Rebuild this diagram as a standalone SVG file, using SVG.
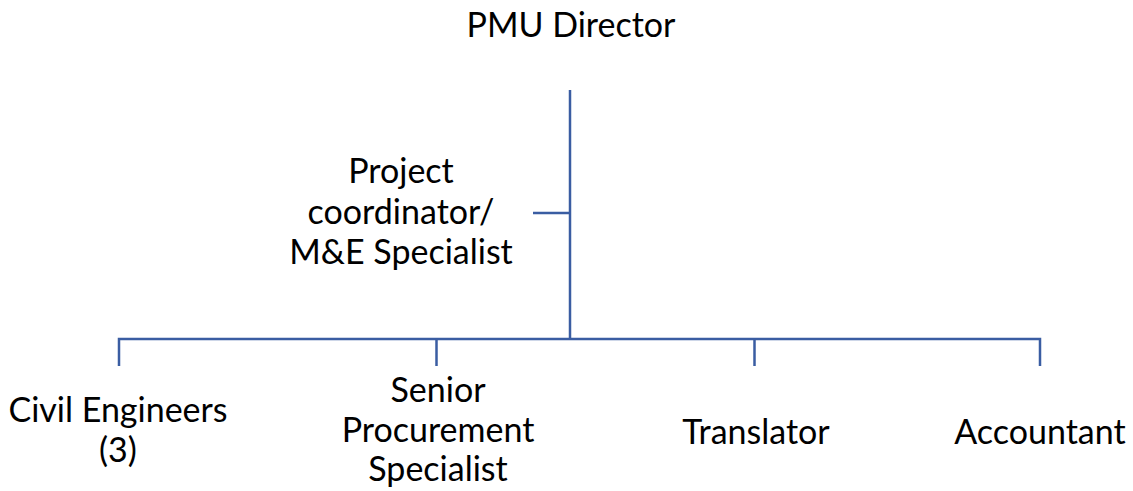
<svg xmlns="http://www.w3.org/2000/svg" width="1133" height="491" viewBox="0 0 1133 491">
<style>
.t{font-family:Lato,"Liberation Sans",sans-serif;font-size:34px;fill:#000;text-anchor:middle}
.c{stroke:#3A5DA2;stroke-width:2.5;fill:none;stroke-linecap:butt}
</style>
<rect width="1133" height="491" fill="#fff"/>
<g id="connectors">
<line class="c" x1="570" y1="90" x2="570" y2="340"/>
<line class="c" x1="533" y1="213" x2="570" y2="213"/>
<polyline class="c" points="119,366 119,339 1040,339 1040,366"/>
<line class="c" x1="436.5" y1="339" x2="436.5" y2="366"/>
<line class="c" x1="754.5" y1="339" x2="754.5" y2="366"/>
</g>
<g id="pmu-director"><text class="t" x="571" y="37">PMU Director</text></g>
<g id="project-coordinator"><text class="t" x="401" y="183">Project</text><text class="t" x="401" y="224">coordinator/</text><text class="t" x="401" y="264">M&amp;E Specialist</text></g>
<g id="civil-engineers"><text class="t" x="118" y="422">Civil Engineers</text><text class="t" x="118" y="462">(3)</text></g>
<g id="senior-procurement"><text class="t" x="438" y="402">Senior</text><text class="t" x="438" y="442">Procurement</text><text class="t" x="438" y="481">Specialist</text></g>
<g id="translator"><text class="t" x="756" y="444">Translator</text></g>
<g id="accountant"><text class="t" x="1040" y="444">Accountant</text></g>
</svg>
